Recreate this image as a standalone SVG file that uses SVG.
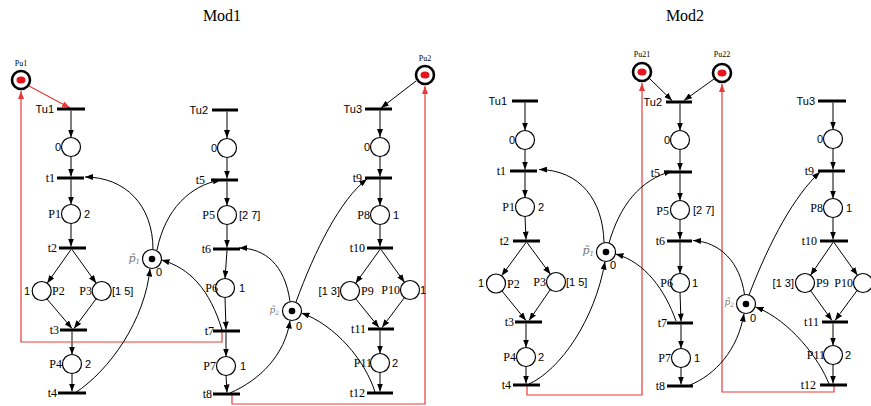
<svg xmlns="http://www.w3.org/2000/svg" width="871" height="406" viewBox="0 0 871 406">
<style>
.pl{fill:#fff;stroke:#000;stroke-width:1.2}
.pu{fill:#fff;stroke:#000;stroke-width:2.6}
.tok{fill:#000}
.rtok{fill:#e8141c}
.tr{stroke:#000;stroke-width:3}
.arc{fill:none;stroke:#000;stroke-width:1;marker-end:url(#ah)}
.red{fill:none;stroke:#e83a3a;stroke-width:1.2;marker-end:url(#ahr)}
.ls{font-family:"Liberation Sans",Arial,sans-serif;font-size:11px;fill:#000}
.lr{font-family:"Liberation Serif","Times New Roman",serif;font-size:12px;fill:#000}
.lu{font-family:"Liberation Serif","Times New Roman",serif;font-size:8px;fill:#000;text-anchor:middle}
.pt{font-family:"DejaVu Serif","Liberation Serif",serif;font-style:italic;font-size:11px;fill:#777;text-anchor:end}
.pt2{font-family:"DejaVu Serif","Liberation Serif",serif;font-style:italic;font-size:9px;fill:#777;text-anchor:end}
.e{text-anchor:end}
.ttl{font-family:"Liberation Serif","Times New Roman",serif;font-size:16px;fill:#000;text-anchor:middle}
</style>
<defs>
<marker id="ah" markerWidth="8" markerHeight="6" refX="8" refY="3" orient="auto" markerUnits="userSpaceOnUse"><path d="M0,0 L8,3 L0,6 z" fill="#000"/></marker>
<marker id="ahr" markerWidth="8" markerHeight="6" refX="8" refY="3" orient="auto" markerUnits="userSpaceOnUse"><path d="M0,0 L8,3 L0,6 z" fill="#e83a3a"/></marker>
</defs>
<rect width="871" height="406" fill="#fff"/>
<text class="ttl" x="222" y="21">Mod1</text>
<text class="ttl" x="685" y="21">Mod2</text>

<g id="connectors">
<!-- Mod1 -->
<path class="red" d="M29,86 L70,108"/>
<path class="arc" d="M71,110.5 V137.5"/>
<path class="arc" d="M71,156.5 V176.5"/>
<path class="arc" d="M71,179.5 V204.5"/>
<path class="arc" d="M71,223.5 V246.5"/>
<path class="arc" d="M71,249.5 L47.2,283.2"/>
<path class="arc" d="M72,249.5 L96.2,283.2"/>
<path class="arc" d="M47,299 L72,328.5"/>
<path class="arc" d="M96,299 L74,328.5"/>
<path class="arc" d="M72,331.5 V354.5"/>
<path class="arc" d="M72,373.5 V391.5"/>
<path class="red" d="M222,332 V342 H21 V91"/>
<path class="arc" d="M153,249.5 C153,205 125,177 85,177"/>
<path class="arc" d="M157,250 C165,210 190,185 221,180"/>
<path class="arc" d="M75,393 C110,370 145,320 150,268.5"/>
<path class="arc" d="M222,330 C210,290 190,268 161.5,260"/>
<path class="arc" d="M227,111.5 V138"/>
<path class="arc" d="M227,157.5 V178.5"/>
<path class="arc" d="M227,181.5 V205.5"/>
<path class="arc" d="M227,224.5 V247.5"/>
<path class="arc" d="M227,250.5 L225,278.5"/>
<path class="arc" d="M225,297.5 L226,329.5"/>
<path class="arc" d="M226,332.5 V356.5"/>
<path class="arc" d="M226,375.5 L227,392.5"/>
<path class="red" d="M232,395 V404 H425 V86"/>
<path class="arc" d="M416,81 L381,108"/>
<path class="arc" d="M380,110.5 V137"/>
<path class="arc" d="M380,156.5 V176.5"/>
<path class="arc" d="M380,179.5 V205.5"/>
<path class="arc" d="M380,224.5 V246.5"/>
<path class="arc" d="M380,249.5 L355.6,283.3"/>
<path class="arc" d="M381,249.5 L404.5,282.3"/>
<path class="arc" d="M355.5,298.5 L379,327.5"/>
<path class="arc" d="M404.5,297.5 L382,327.5"/>
<path class="arc" d="M380,330.5 V353.5"/>
<path class="arc" d="M380,372.5 V391.5"/>
<path class="arc" d="M290,301.5 C285,265 265,248 239,248"/>
<path class="arc" d="M296,302 C315,250 340,200 367,179"/>
<path class="arc" d="M230,393 C260,380 285,355 290,320.5"/>
<path class="arc" d="M375,392 C365,360 335,325 301.5,313"/>
<!-- Mod2 -->
<path class="arc" d="M649,78 L672,100.5"/>
<path class="arc" d="M714,79 L684,100.5"/>
<path class="arc" d="M680,103.5 V130.5"/>
<path class="arc" d="M680,149.5 V170.5"/>
<path class="arc" d="M680,173.5 V200.5"/>
<path class="arc" d="M680,219.5 V239.5"/>
<path class="arc" d="M680,242.5 V273.5"/>
<path class="arc" d="M680,292.5 L681,321.5"/>
<path class="arc" d="M681,324.5 V348.5"/>
<path class="arc" d="M681,367.5 V384.5"/>
<path class="arc" d="M525,102.5 V130.5"/>
<path class="arc" d="M525,149.5 V169.5"/>
<path class="arc" d="M525,172.5 V197.5"/>
<path class="arc" d="M525,216.5 L526,239.5"/>
<path class="arc" d="M526,242.5 L501.6,275.8"/>
<path class="arc" d="M527,242.5 L550.4,274.3"/>
<path class="arc" d="M502,291 L526,320.5"/>
<path class="arc" d="M550,290 L529,320.5"/>
<path class="arc" d="M526,323.5 V347.5"/>
<path class="arc" d="M526,366.5 V383.5"/>
<path class="red" d="M527,386 V395 H642 V83"/>
<path class="arc" d="M604,242.5 C603,200 580,170 539,169.5"/>
<path class="arc" d="M609,243 C620,205 640,180 672,171"/>
<path class="arc" d="M529,384 C560,370 595,320 605,261.5"/>
<path class="arc" d="M676,321 C665,290 645,262 615.5,254"/>
<path class="red" d="M834,386 V392 H722 V84"/>
<path class="arc" d="M744.5,294.5 C740,262 720,242 693,240.5"/>
<path class="arc" d="M749,295 C770,240 795,195 820,172"/>
<path class="arc" d="M690,385 C715,375 738,350 744,313.5"/>
<path class="arc" d="M829,384 C820,360 790,320 755.5,307"/>
<path class="arc" d="M833,102.5 V129.5"/>
<path class="arc" d="M833,148.5 V169.5"/>
<path class="arc" d="M833,172.5 V198.5"/>
<path class="arc" d="M833,217.5 V239.5"/>
<path class="arc" d="M833,242.5 L810.5,275.2"/>
<path class="arc" d="M834,242.5 L857.5,275.3"/>
<path class="arc" d="M810.5,290.5 L832,320.5"/>
<path class="arc" d="M857,290.5 L835,320.5"/>
<path class="arc" d="M833,323.5 V345.5"/>
<path class="arc" d="M833,364.5 V383.5"/>
</g>

<!-- Mod1 nodes -->
<g id="m1-Pu1"><circle class="pu" cx="21" cy="80" r="9"/><ellipse class="rtok" cx="21" cy="80" rx="4.5" ry="3.6"/><text class="lu" x="21" y="66">Pu1</text></g>
<g id="m1-Tu1"><line class="tr" x1="57" y1="109" x2="85" y2="109"/><text class="ls e" x="54" y="113">Tu1</text></g>
<g id="m1-P0a"><circle class="pl" cx="71" cy="147" r="9.5"/><text class="ls e" x="61" y="151">0</text></g>
<g id="m1-t1"><line class="tr" x1="57" y1="178" x2="84" y2="178"/><text class="lr e" x="55" y="182">t1</text></g>
<g id="m1-P1"><circle class="pl" cx="71" cy="214" r="9.5"/><text class="lr e" x="61" y="218">P1</text><text class="ls" x="84" y="218">2</text></g>
<g id="m1-t2"><line class="tr" x1="59" y1="248" x2="86" y2="248"/><text class="lr e" x="57" y="252">t2</text></g>
<g id="m1-P2"><circle class="pl" cx="41.7" cy="291" r="9.5"/><text class="ls e" x="30" y="295">1</text><text class="lr" x="52" y="295">P2</text></g>
<g id="m1-P3"><circle class="pl" cx="101.7" cy="291" r="9.5"/><text class="lr e" x="92" y="295">P3</text><text class="ls" x="112" y="295">[1 5]</text></g>
<g id="m1-t3"><line class="tr" x1="60" y1="330" x2="87" y2="330"/><text class="lr e" x="59" y="334">t3</text></g>
<g id="m1-P4"><circle class="pl" cx="72" cy="364" r="9.5"/><text class="lr e" x="62" y="368">P4</text><text class="ls" x="85" y="368">2</text></g>
<g id="m1-t4"><line class="tr" x1="58" y1="393" x2="86" y2="393"/><text class="lr e" x="57" y="397">t4</text></g>
<g id="m1-pt1"><circle class="pl" cx="152" cy="259" r="9.5"/><circle class="tok" cx="152" cy="259" r="3.3"/><text class="pt" x="140" y="262">p&#771;<tspan font-size="7" dy="2">1</tspan></text><text class="ls" x="156" y="276">0</text></g>
<g id="m1-Tu2"><line class="tr" x1="212" y1="110" x2="238" y2="110"/><text class="ls e" x="208" y="114">Tu2</text></g>
<g id="m1-P0b"><circle class="pl" cx="227" cy="148" r="9.5"/><text class="ls e" x="217" y="152">0</text></g>
<g id="m1-t5"><line class="tr" x1="211" y1="180" x2="238" y2="180"/><text class="lr e" x="205" y="184">t5</text></g>
<g id="m1-P5"><circle class="pl" cx="227" cy="215" r="9.5"/><text class="lr e" x="215" y="219">P5</text><text class="ls" x="239" y="219">[2 7]</text></g>
<g id="m1-t6"><line class="tr" x1="213" y1="249" x2="240" y2="249"/><text class="lr e" x="211" y="253">t6</text></g>
<g id="m1-P6"><circle class="pl" cx="225" cy="288" r="9.5"/><text class="lr e" x="218" y="292">P6</text><text class="ls" x="239" y="292">1</text></g>
<g id="m1-t7"><line class="tr" x1="213" y1="331" x2="240" y2="331"/><text class="lr e" x="214" y="335">t7</text></g>
<g id="m1-P7"><circle class="pl" cx="226" cy="366" r="9.5"/><text class="lr e" x="216" y="370">P7</text><text class="ls" x="240" y="370">1</text></g>
<g id="m1-t8"><line class="tr" x1="213" y1="394" x2="240" y2="394"/><text class="lr e" x="212" y="398">t8</text></g>
<g id="m1-pt2"><circle class="pl" cx="292" cy="311" r="9.5"/><circle class="tok" cx="292" cy="311" r="3.3"/><text class="pt2" x="279" y="313">p&#771;<tspan font-size="6" dy="1.5">2</tspan></text><text class="ls" x="296" y="330">0</text></g>
<g id="m1-Pu2"><circle class="pu" cx="425" cy="75" r="9"/><ellipse class="rtok" cx="425" cy="75" rx="4.5" ry="3.6"/><text class="lu" x="425" y="61">Pu2</text></g>
<g id="m1-Tu3"><line class="tr" x1="365" y1="109" x2="392" y2="109"/><text class="ls e" x="362" y="113">Tu3</text></g>
<g id="m1-P0c"><circle class="pl" cx="380" cy="147" r="9.5"/><text class="ls e" x="370" y="151">0</text></g>
<g id="m1-t9"><line class="tr" x1="365" y1="178" x2="392" y2="178"/><text class="lr e" x="362" y="182">t9</text></g>
<g id="m1-P8"><circle class="pl" cx="380" cy="215" r="9.5"/><text class="lr e" x="370" y="219">P8</text><text class="ls" x="393" y="219">1</text></g>
<g id="m1-t10"><line class="tr" x1="367" y1="248" x2="393" y2="248"/><text class="lr e" x="365" y="252">t10</text></g>
<g id="m1-P9"><circle class="pl" cx="350" cy="291" r="9.5"/><text class="ls e" x="340" y="295">[1 3]</text><text class="lr" x="361" y="295">P9</text></g>
<g id="m1-P10"><circle class="pl" cx="410" cy="290" r="9.5"/><text class="lr e" x="400" y="294">P10</text><text class="ls" x="420" y="294">1</text></g>
<g id="m1-t11"><line class="tr" x1="368" y1="329" x2="394" y2="329"/><text class="lr e" x="366" y="333">t11</text></g>
<g id="m1-P11"><circle class="pl" cx="380" cy="363" r="9.5"/><text class="lr e" x="372" y="367">P11</text><text class="ls" x="392" y="367">2</text></g>
<g id="m1-t12"><line class="tr" x1="367" y1="393" x2="393" y2="393"/><text class="lr e" x="365" y="397">t12</text></g>

<!-- Mod2 nodes -->
<g id="m2-Pu21"><circle class="pu" cx="642" cy="72" r="9"/><ellipse class="rtok" cx="642" cy="72" rx="4.5" ry="3.6"/><text class="lu" x="642" y="57">Pu21</text></g>
<g id="m2-Pu22"><circle class="pu" cx="722" cy="73" r="9"/><ellipse class="rtok" cx="722" cy="73" rx="4.5" ry="3.6"/><text class="lu" x="722" y="57">Pu22</text></g>
<g id="m2-Tu1"><line class="tr" x1="512" y1="101" x2="538" y2="101"/><text class="ls e" x="507" y="105">Tu1</text></g>
<g id="m2-P0a"><circle class="pl" cx="525" cy="140" r="9.5"/><text class="ls e" x="515" y="144">0</text></g>
<g id="m2-t1"><line class="tr" x1="510" y1="171" x2="537" y2="171"/><text class="lr e" x="506" y="175">t1</text></g>
<g id="m2-P1"><circle class="pl" cx="525" cy="207" r="9.5"/><text class="lr e" x="515" y="211">P1</text><text class="ls" x="538" y="211">2</text></g>
<g id="m2-t2"><line class="tr" x1="513" y1="241" x2="540" y2="241"/><text class="lr e" x="509" y="245">t2</text></g>
<g id="m2-P2"><circle class="pl" cx="496" cy="283.5" r="9.5"/><text class="ls e" x="484" y="287">1</text><text class="lr" x="507" y="288">P2</text></g>
<g id="m2-P3"><circle class="pl" cx="556" cy="282" r="9.5"/><text class="lr e" x="546" y="286">P3</text><text class="ls" x="566" y="286">[1 5]</text></g>
<g id="m2-t3"><line class="tr" x1="515" y1="322" x2="542" y2="322"/><text class="lr e" x="514" y="326">t3</text></g>
<g id="m2-P4"><circle class="pl" cx="526" cy="357" r="9.5"/><text class="lr e" x="516" y="361">P4</text><text class="ls" x="538" y="361">2</text></g>
<g id="m2-t4"><line class="tr" x1="513" y1="385" x2="540" y2="385"/><text class="lr e" x="511" y="389">t4</text></g>
<g id="m2-pt1"><circle class="pl" cx="606" cy="252" r="9.5"/><circle class="tok" cx="606" cy="252" r="3.3"/><text class="pt" x="594" y="254">p&#771;<tspan font-size="7" dy="2">1</tspan></text><text class="ls" x="610" y="269">0</text></g>
<g id="m2-Tu2"><line class="tr" x1="666" y1="102" x2="692" y2="102"/><text class="ls e" x="662" y="106">Tu2</text></g>
<g id="m2-P0b"><circle class="pl" cx="680" cy="140" r="9.5"/><text class="ls e" x="670" y="144">0</text></g>
<g id="m2-t5"><line class="tr" x1="666" y1="172" x2="692" y2="172"/><text class="lr e" x="660" y="177">t5</text></g>
<g id="m2-P5"><circle class="pl" cx="680" cy="210" r="9.5"/><text class="lr e" x="669" y="215">P5</text><text class="ls" x="693" y="214">[2 7]</text></g>
<g id="m2-t6"><line class="tr" x1="667" y1="241" x2="692" y2="241"/><text class="lr e" x="665" y="245">t6</text></g>
<g id="m2-P6"><circle class="pl" cx="680" cy="283" r="9.5"/><text class="lr e" x="673" y="287">P6</text><text class="ls" x="692" y="287">1</text></g>
<g id="m2-t7"><line class="tr" x1="667" y1="323" x2="693" y2="323"/><text class="lr e" x="667" y="327">t7</text></g>
<g id="m2-P7"><circle class="pl" cx="681" cy="358" r="9.5"/><text class="lr e" x="671" y="362">P7</text><text class="ls" x="694" y="362">1</text></g>
<g id="m2-t8"><line class="tr" x1="667" y1="386" x2="693" y2="386"/><text class="lr e" x="665" y="390">t8</text></g>
<g id="m2-pt2"><circle class="pl" cx="746" cy="304" r="9.5"/><circle class="tok" cx="746" cy="304" r="3.3"/><text class="pt2" x="734" y="305">p&#771;<tspan font-size="6" dy="1.5">2</tspan></text><text class="ls" x="750" y="322">0</text></g>
<g id="m2-Tu3"><line class="tr" x1="818" y1="101" x2="846" y2="101"/><text class="ls e" x="815" y="105">Tu3</text></g>
<g id="m2-P0c"><circle class="pl" cx="833" cy="139" r="9.5"/><text class="ls e" x="823" y="143">0</text></g>
<g id="m2-t9"><line class="tr" x1="818" y1="171" x2="845" y2="171"/><text class="lr e" x="814" y="175">t9</text></g>
<g id="m2-P8"><circle class="pl" cx="833" cy="208" r="9.5"/><text class="lr e" x="823" y="212">P8</text><text class="ls" x="846" y="212">1</text></g>
<g id="m2-t10"><line class="tr" x1="820" y1="241" x2="848" y2="241"/><text class="lr e" x="817" y="245">t10</text></g>
<g id="m2-P9"><circle class="pl" cx="805" cy="283" r="9.5"/><text class="ls e" x="794" y="287">[1 3]</text><text class="lr" x="816" y="287">P9</text></g>
<g id="m2-P10"><circle class="pl" cx="863" cy="283" r="9.5"/><text class="lr e" x="853" y="287">P10</text></g>
<g id="m2-t11"><line class="tr" x1="822" y1="322" x2="848" y2="322"/><text class="lr e" x="819" y="326">t11</text></g>
<g id="m2-P11"><circle class="pl" cx="833" cy="355" r="9.5"/><text class="lr e" x="825" y="359">P11</text><text class="ls" x="845" y="359">2</text></g>
<g id="m2-t12"><line class="tr" x1="820" y1="385" x2="847" y2="385"/><text class="lr e" x="816" y="389">t12</text></g>
</svg>
